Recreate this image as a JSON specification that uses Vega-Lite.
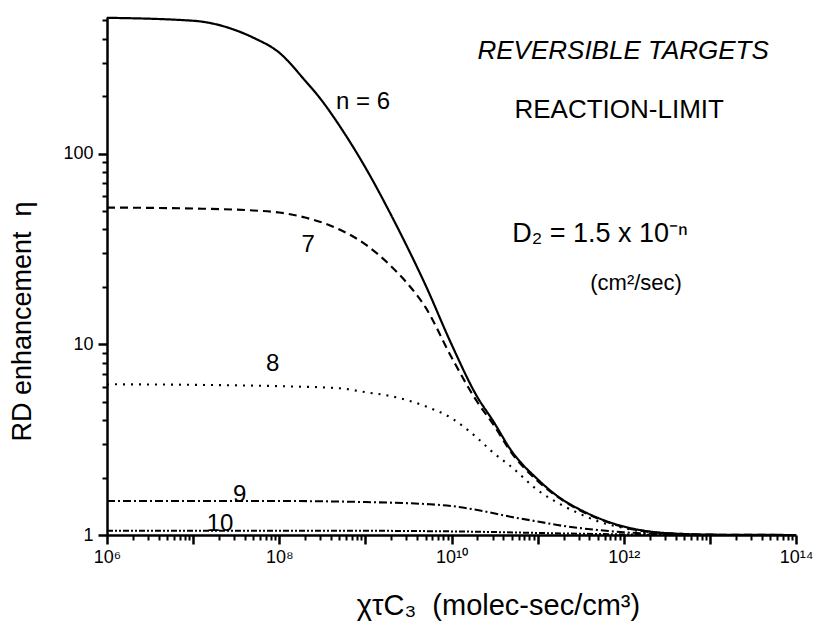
{
  "$schema": "https://vega.github.io/schema/vega-lite/v6.json",
  "width": 689,
  "height": 518,
  "autosize": "none",
  "padding": {"left": 107, "top": 17, "right": 19, "bottom": 88},
  "background": "white",
  "config": {"view": {"stroke": null}, "font": "Liberation Sans"},
  "resolve": {"axis": {"x": "independent", "y": "independent"}},
  "layer": [
    {
      "data": {"values": [
        {"n": "6", "x": 1000000, "y": 515},
        {"n": "6", "x": 10000000, "y": 497},
        {"n": "6", "x": 30000000, "y": 446},
        {"n": "6", "x": 50000000, "y": 405},
        {"n": "6", "x": 100000000, "y": 338},
        {"n": "6", "x": 200000000, "y": 241},
        {"n": "6", "x": 300000000, "y": 194},
        {"n": "6", "x": 500000000, "y": 140},
        {"n": "6", "x": 1000000000, "y": 84.5},
        {"n": "6", "x": 2000000000, "y": 47.4},
        {"n": "6", "x": 3000000000, "y": 33.0},
        {"n": "6", "x": 5000000000, "y": 20.4},
        {"n": "6", "x": 10000000000, "y": 10.0},
        {"n": "6", "x": 20000000000, "y": 5.28},
        {"n": "6", "x": 30000000000, "y": 4.0},
        {"n": "6", "x": 50000000000, "y": 2.75},
        {"n": "6", "x": 100000000000, "y": 1.96},
        {"n": "6", "x": 200000000000, "y": 1.52},
        {"n": "6", "x": 300000000000, "y": 1.37},
        {"n": "6", "x": 500000000000, "y": 1.23},
        {"n": "6", "x": 1000000000000, "y": 1.108},
        {"n": "6", "x": 2000000000000, "y": 1.043},
        {"n": "6", "x": 5000000000000, "y": 1.012},
        {"n": "6", "x": 10000000000000, "y": 1.004},
        {"n": "6", "x": 100000000000000, "y": 1.0},

        {"n": "7", "x": 1000000, "y": 52.1},
        {"n": "7", "x": 10000000, "y": 51.5},
        {"n": "7", "x": 50000000, "y": 50.3},
        {"n": "7", "x": 100000000, "y": 49.1},
        {"n": "7", "x": 200000000, "y": 46.2},
        {"n": "7", "x": 500000000, "y": 40.0},
        {"n": "7", "x": 1000000000, "y": 33.4},
        {"n": "7", "x": 2000000000, "y": 25.6},
        {"n": "7", "x": 3000000000, "y": 21.1},
        {"n": "7", "x": 5000000000, "y": 15.6},
        {"n": "7", "x": 10000000000, "y": 8.55},
        {"n": "7", "x": 20000000000, "y": 4.97},
        {"n": "7", "x": 30000000000, "y": 3.85},
        {"n": "7", "x": 50000000000, "y": 2.69},
        {"n": "7", "x": 100000000000, "y": 1.92},
        {"n": "7", "x": 200000000000, "y": 1.51},
        {"n": "7", "x": 500000000000, "y": 1.22},
        {"n": "7", "x": 1000000000000, "y": 1.10},
        {"n": "7", "x": 2000000000000, "y": 1.037},
        {"n": "7", "x": 5000000000000, "y": 1.012},
        {"n": "7", "x": 10000000000000, "y": 1.004},
        {"n": "7", "x": 100000000000000, "y": 1.0},

        {"n": "8", "x": 1000000, "y": 6.17},
        {"n": "8", "x": 10000000, "y": 6.13},
        {"n": "8", "x": 100000000, "y": 6.03},
        {"n": "8", "x": 500000000, "y": 5.88},
        {"n": "8", "x": 1000000000, "y": 5.61},
        {"n": "8", "x": 2000000000, "y": 5.34},
        {"n": "8", "x": 5000000000, "y": 4.73},
        {"n": "8", "x": 10000000000, "y": 4.10},
        {"n": "8", "x": 20000000000, "y": 3.22},
        {"n": "8", "x": 30000000000, "y": 2.72},
        {"n": "8", "x": 50000000000, "y": 2.27},
        {"n": "8", "x": 100000000000, "y": 1.72},
        {"n": "8", "x": 200000000000, "y": 1.42},
        {"n": "8", "x": 300000000000, "y": 1.30},
        {"n": "8", "x": 500000000000, "y": 1.18},
        {"n": "8", "x": 1000000000000, "y": 1.088},
        {"n": "8", "x": 2000000000000, "y": 1.03},
        {"n": "8", "x": 5000000000000, "y": 1.008},
        {"n": "8", "x": 10000000000000, "y": 1.0},
        {"n": "8", "x": 100000000000000, "y": 1.0},

        {"n": "9", "x": 1000000, "y": 1.507},
        {"n": "9", "x": 100000000, "y": 1.507},
        {"n": "9", "x": 1000000000, "y": 1.488},
        {"n": "9", "x": 5000000000, "y": 1.453},
        {"n": "9", "x": 10000000000, "y": 1.419},
        {"n": "9", "x": 20000000000, "y": 1.352},
        {"n": "9", "x": 50000000000, "y": 1.243},
        {"n": "9", "x": 100000000000, "y": 1.177},
        {"n": "9", "x": 200000000000, "y": 1.115},
        {"n": "9", "x": 500000000000, "y": 1.062},
        {"n": "9", "x": 1000000000000, "y": 1.033},
        {"n": "9", "x": 2000000000000, "y": 1.018},
        {"n": "9", "x": 5000000000000, "y": 1.006},
        {"n": "9", "x": 10000000000000, "y": 1.0},
        {"n": "9", "x": 100000000000000, "y": 1.0},

        {"n": "10", "x": 1000000, "y": 1.053},
        {"n": "10", "x": 1000000000, "y": 1.052},
        {"n": "10", "x": 5000000000, "y": 1.048},
        {"n": "10", "x": 20000000000, "y": 1.040},
        {"n": "10", "x": 100000000000, "y": 1.025},
        {"n": "10", "x": 500000000000, "y": 1.012},
        {"n": "10", "x": 2000000000000, "y": 1.004},
        {"n": "10", "x": 10000000000000, "y": 1.0},
        {"n": "10", "x": 100000000000000, "y": 1.0}
      ]},
      "mark": {"type": "line", "interpolate": "monotone", "color": "black", "strokeCap": "butt"},
      "encoding": {
        "x": {
          "field": "x", "type": "quantitative",
          "scale": {"type": "log", "domain": [1000000, 100000000000000], "nice": false},
          "axis": {
            "orient": "bottom", "offset": 0,
            "values": [1000000, 10000000, 100000000, 1000000000, 10000000000, 100000000000, 1000000000000, 10000000000000, 100000000000000],
            "labelExpr": "datum.value == 1000000 ? '10⁶' : datum.value == 100000000 ? '10⁸' : datum.value == 10000000000 ? '10¹⁰' : datum.value == 1000000000000 ? '10¹²' : datum.value == 100000000000000 ? '10¹⁴' : ''",
            "tickSize": 9, "tickColor": "black", "tickWidth": 2.5,
            "domainColor": "black", "domainWidth": 2.5,
            "grid": false,
            "labelFont": "Liberation Sans", "labelFontSize": 18, "labelColor": "black", "labelPadding": 4,
            "labelFlush": false,
            "title": "χτC₃\u00a0\u00a0(molec-sec/cm³)",
            "titleFont": "Liberation Sans", "titleFontSize": 29, "titleFontWeight": "normal", "titleColor": "black",
            "titleX": 391, "titleY": 79, "titleAlign": "center", "titleBaseline": "alphabetic"
          }
        },
        "y": {
          "field": "y", "type": "quantitative",
          "scale": {"type": "log", "domain": [1, 520], "nice": false},
          "axis": {
            "orient": "left", "offset": 0,
            "values": [1, 10, 100],
            "labelExpr": "datum.value == 1 ? '1' : datum.value == 10 ? '10' : '100'",
            "tickSize": 9, "tickColor": "black", "tickWidth": 2.5,
            "domainColor": "black", "domainWidth": 2.5,
            "grid": false,
            "labelFont": "Liberation Sans", "labelFontSize": 18, "labelColor": "black", "labelPadding": 5,
            "title": "RD enhancement\u00a0\u00a0η",
            "titleFont": "Liberation Sans", "titleFontSize": 27, "titleFontWeight": "normal", "titleColor": "black",
            "titleX": -85, "titleY": 304, "titleAngle": 270, "titleAlign": "center", "titleBaseline": "middle"
          }
        },
        "strokeDash": {"field": "n", "type": "nominal",
          "scale": {"domain": ["6", "7", "8", "9", "10"], "range": [[1, 0], [8, 5], [2, 6], [8, 3, 2, 3], [6, 2, 2, 2, 2, 2]]},
          "legend": null},
        "strokeWidth": {"field": "n", "type": "nominal",
          "scale": {"domain": ["6", "7", "8", "9", "10"], "range": [2.2, 2, 2, 1.7, 1.7]},
          "legend": null}
      }
    },
    {
      "data": {"values": [
        {"x": 940000000, "y": 172, "label": "n = 6"},
        {"x": 216000000, "y": 30.3, "label": "7"},
        {"x": 83600000, "y": 7.22, "label": "8"},
        {"x": 34600000, "y": 1.49, "label": "9"},
        {"x": 20500000, "y": 1.049, "label": "10"}
      ]},
      "mark": {"type": "text", "font": "Liberation Sans", "fontSize": 24, "align": "center", "baseline": "alphabetic", "color": "black"},
      "encoding": {
        "x": {
          "field": "x", "type": "quantitative",
          "scale": {"type": "log", "domain": [1000000, 100000000000000], "nice": false},
          "axis": {
            "orient": "bottom", "offset": 0,
            "values": [2000000,3000000,4000000,5000000,6000000,7000000,8000000,9000000,
                       20000000,30000000,40000000,50000000,60000000,70000000,80000000,90000000,
                       200000000,300000000,400000000,500000000,600000000,700000000,800000000,900000000,
                       2000000000,3000000000,4000000000,5000000000,6000000000,7000000000,8000000000,9000000000,
                       20000000000,30000000000,40000000000,50000000000,60000000000,70000000000,80000000000,90000000000,
                       200000000000,300000000000,400000000000,500000000000,600000000000,700000000000,800000000000,900000000000,
                       2000000000000,3000000000000,4000000000000,5000000000000,6000000000000,7000000000000,8000000000000,9000000000000,
                       20000000000000,30000000000000,40000000000000,50000000000000,60000000000000,70000000000000,80000000000000,90000000000000],
            "labels": false, "domain": false, "grid": false, "title": null,
            "tickSize": 5, "tickColor": "black", "tickWidth": 2
          }
        },
        "y": {
          "field": "y", "type": "quantitative",
          "scale": {"type": "log", "domain": [1, 520], "nice": false},
          "axis": {
            "orient": "left", "offset": 0,
            "values": [2,3,4,5,6,7,8,9,20,30,40,50,60,70,80,90,200,300,400,500],
            "labels": false, "domain": false, "grid": false, "title": null,
            "tickSize": 5, "tickColor": "black", "tickWidth": 2
          }
        },
        "text": {"field": "label"}
      }
    },
    {
      "data": {"values": [{"x": 984000000000, "y": 314, "label": "REVERSIBLE TARGETS"}]},
      "mark": {"type": "text", "font": "Liberation Sans", "fontSize": 26, "fontStyle": "italic", "align": "center", "baseline": "alphabetic", "color": "black"},
      "encoding": {
        "x": {"field": "x", "type": "quantitative", "axis": null},
        "y": {"field": "y", "type": "quantitative", "axis": null},
        "text": {"field": "label"}
      }
    },
    {
      "data": {"values": [{"x": 885000000000, "y": 154, "label": "REACTION-LIMIT"}]},
      "mark": {"type": "text", "font": "Liberation Sans", "fontSize": 26, "align": "center", "baseline": "alphabetic", "color": "black"},
      "encoding": {
        "x": {"field": "x", "type": "quantitative", "axis": null},
        "y": {"field": "y", "type": "quantitative", "axis": null},
        "text": {"field": "label"}
      }
    },
    {
      "data": {"values": [{"x": 50600000000, "y": 34.2, "label": "D₂ = 1.5 x 10⁻ⁿ"}]},
      "mark": {"type": "text", "font": "Liberation Sans", "fontSize": 27, "align": "left", "baseline": "alphabetic", "color": "black"},
      "encoding": {
        "x": {"field": "x", "type": "quantitative", "axis": null},
        "y": {"field": "y", "type": "quantitative", "axis": null},
        "text": {"field": "label"}
      }
    },
    {
      "data": {"values": [{"x": 1390000000000, "y": 19.2, "label": "(cm²/sec)"}]},
      "mark": {"type": "text", "font": "Liberation Sans", "fontSize": 22, "align": "center", "baseline": "alphabetic", "color": "black"},
      "encoding": {
        "x": {"field": "x", "type": "quantitative", "axis": null},
        "y": {"field": "y", "type": "quantitative", "axis": null},
        "text": {"field": "label"}
      }
    }
  ]
}
